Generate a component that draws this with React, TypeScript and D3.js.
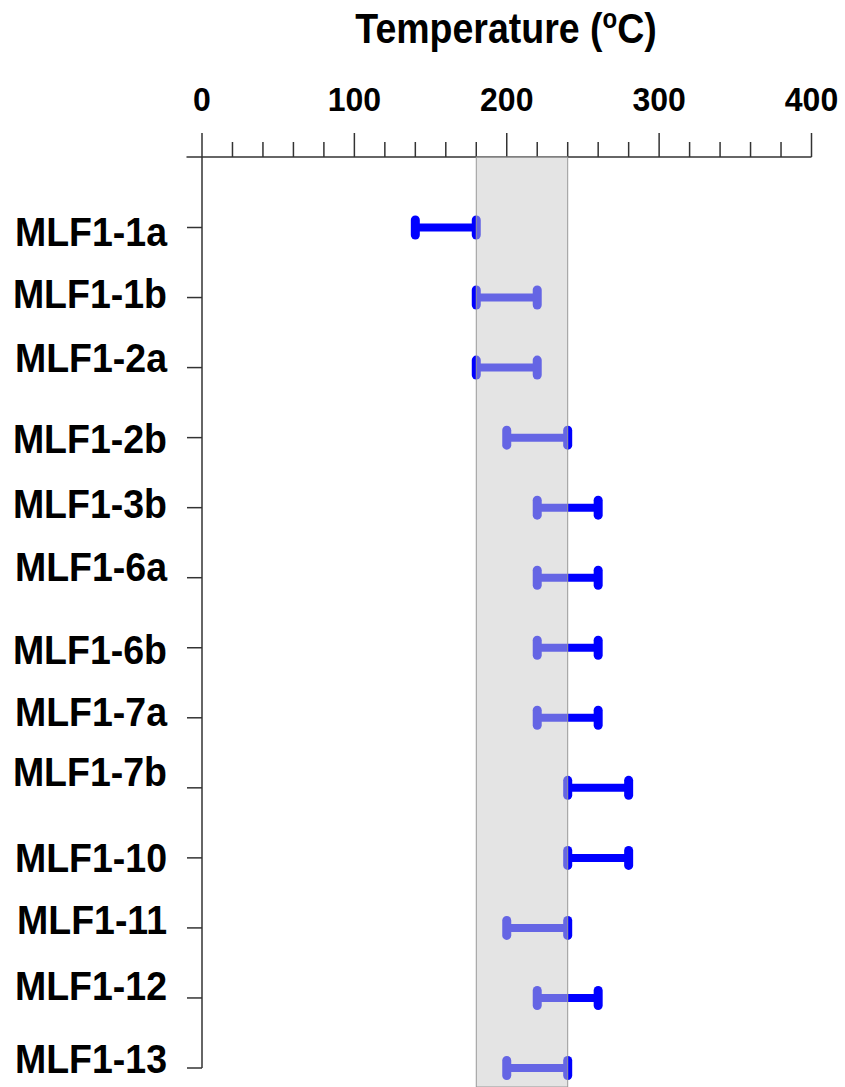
import React from "react";
import * as d3 from "d3";

// Sample names, top to bottom
const samples = [
  "MLF1-1a", "MLF1-1b", "MLF1-2a", "MLF1-2b", "MLF1-3b", "MLF1-6a", "MLF1-6b",
  "MLF1-7a", "MLF1-7b", "MLF1-10", "MLF1-11", "MLF1-12", "MLF1-13",
];
// Temperature range (°C) for each sample
const tempLow = [140, 180, 180, 200, 220, 220, 220, 220, 240, 240, 200, 220, 200];
const tempHigh = [180, 220, 220, 240, 260, 260, 260, 260, 280, 280, 240, 260, 240];
// Highlighted temperature window (°C)
const bandRange = [180, 240];
// Axis ticks
const majorTicks = [0, 100, 200, 300, 400];
const minorStep = 20;

// Vertical nudges of the sample labels relative to their tick marks
const labelNudge = [5, -3, -9, 2, -3, -10, 3, -5, -15, 1, -7, -11.5, -9];

const W = 845;
const H = 1087;
const FONT = "'Liberation Sans', Arial, Helvetica, sans-serif";
const AXIS = "#333";
const BLUE = "#0000ff";

export default function App() {
  const x = d3.scaleLinear().domain([0, 400]).range([202, 811.5]);
  const y = d3.scalePoint<string>().domain(samples).range([227.5, 1068]);
  const axisY = 157;
  const minor = d3.range(0, 401, minorStep).filter((v) => v % 100 !== 0);
  const lastY = y(samples[samples.length - 1]) as number;

  const rows = samples.map((s, i) => ({ s, lo: tempLow[i], hi: tempHigh[i], nudge: labelNudge[i] }));

  return (
    <svg
      width={W}
      height={H}
      style={{ position: "absolute", left: 0, top: 0, background: "#fff" }}
      fontFamily={FONT}
    >
      {/* title, slightly tall lettering */}
      <text
        transform="translate(506,43) scale(1,1.13)"
        textAnchor="middle"
        fontSize={37.5}
        fontWeight="bold"
        fill="#000"
      >
        Temperature (<tspan fontSize={24} dy={-13}>o</tspan>
        <tspan dy={13}>C)</tspan>
      </text>

      {/* top axis */}
      <line x1={186.5} x2={x(400)} y1={axisY} y2={axisY} stroke={AXIS} strokeWidth={1.5} />
      {majorTicks.map((t) => (
        <g key={"M" + t}>
          <line x1={x(t)} x2={x(t)} y1={axisY} y2={axisY - 24} stroke={AXIS} strokeWidth={1.5} />
          <text
            transform={`translate(${x(t)},111) scale(1,1.05)`}
            textAnchor="middle"
            fontSize={32}
            fontWeight="bold"
            fill="#000"
          >
            {t}
          </text>
        </g>
      ))}
      {minor.map((t) => (
        <line key={"m" + t} x1={x(t)} x2={x(t)} y1={axisY} y2={axisY - 15} stroke={AXIS} strokeWidth={1.5} />
      ))}

      {/* left axis */}
      <line x1={x(0)} x2={x(0)} y1={axisY} y2={lastY} stroke={AXIS} strokeWidth={1.5} />
      {rows.map((r) => {
        const yy = y(r.s) as number;
        return (
          <g key={"l" + r.s}>
            <line x1={x(0) - 15} x2={x(0)} y1={yy} y2={yy} stroke={AXIS} strokeWidth={1.5} />
            <text
              transform={`translate(167,${yy + r.nudge + 13.5}) scale(1,1.1)`}
              textAnchor="end"
              fontSize={37.5}
              fontWeight="bold"
              fill="#000"
            >
              {r.s}
            </text>
          </g>
        );
      })}

      {/* range bars */}
      {rows.map((r) => {
        const yy = y(r.s) as number;
        return (
          <g key={"b" + r.s}>
            <line x1={x(r.lo)} x2={x(r.hi)} y1={yy} y2={yy} stroke={BLUE} strokeWidth={8} />
            {[r.lo, r.hi].map((v, k) => (
              <rect
                key={k}
                x={x(v) - 4.5}
                y={yy - 12}
                width={9}
                height={24}
                rx={4.5}
                fill={BLUE}
              />
            ))}
          </g>
        );
      })}

      {/* highlighted temperature window, drawn over the bars */}
      <rect
        x={x(bandRange[0])}
        y={axisY}
        width={x(bandRange[1]) - x(bandRange[0])}
        height={H - axisY}
        fill="#c9c9c9"
        fillOpacity={0.5}
        stroke="#999"
        strokeWidth={1}
      />
    </svg>
  );
}
